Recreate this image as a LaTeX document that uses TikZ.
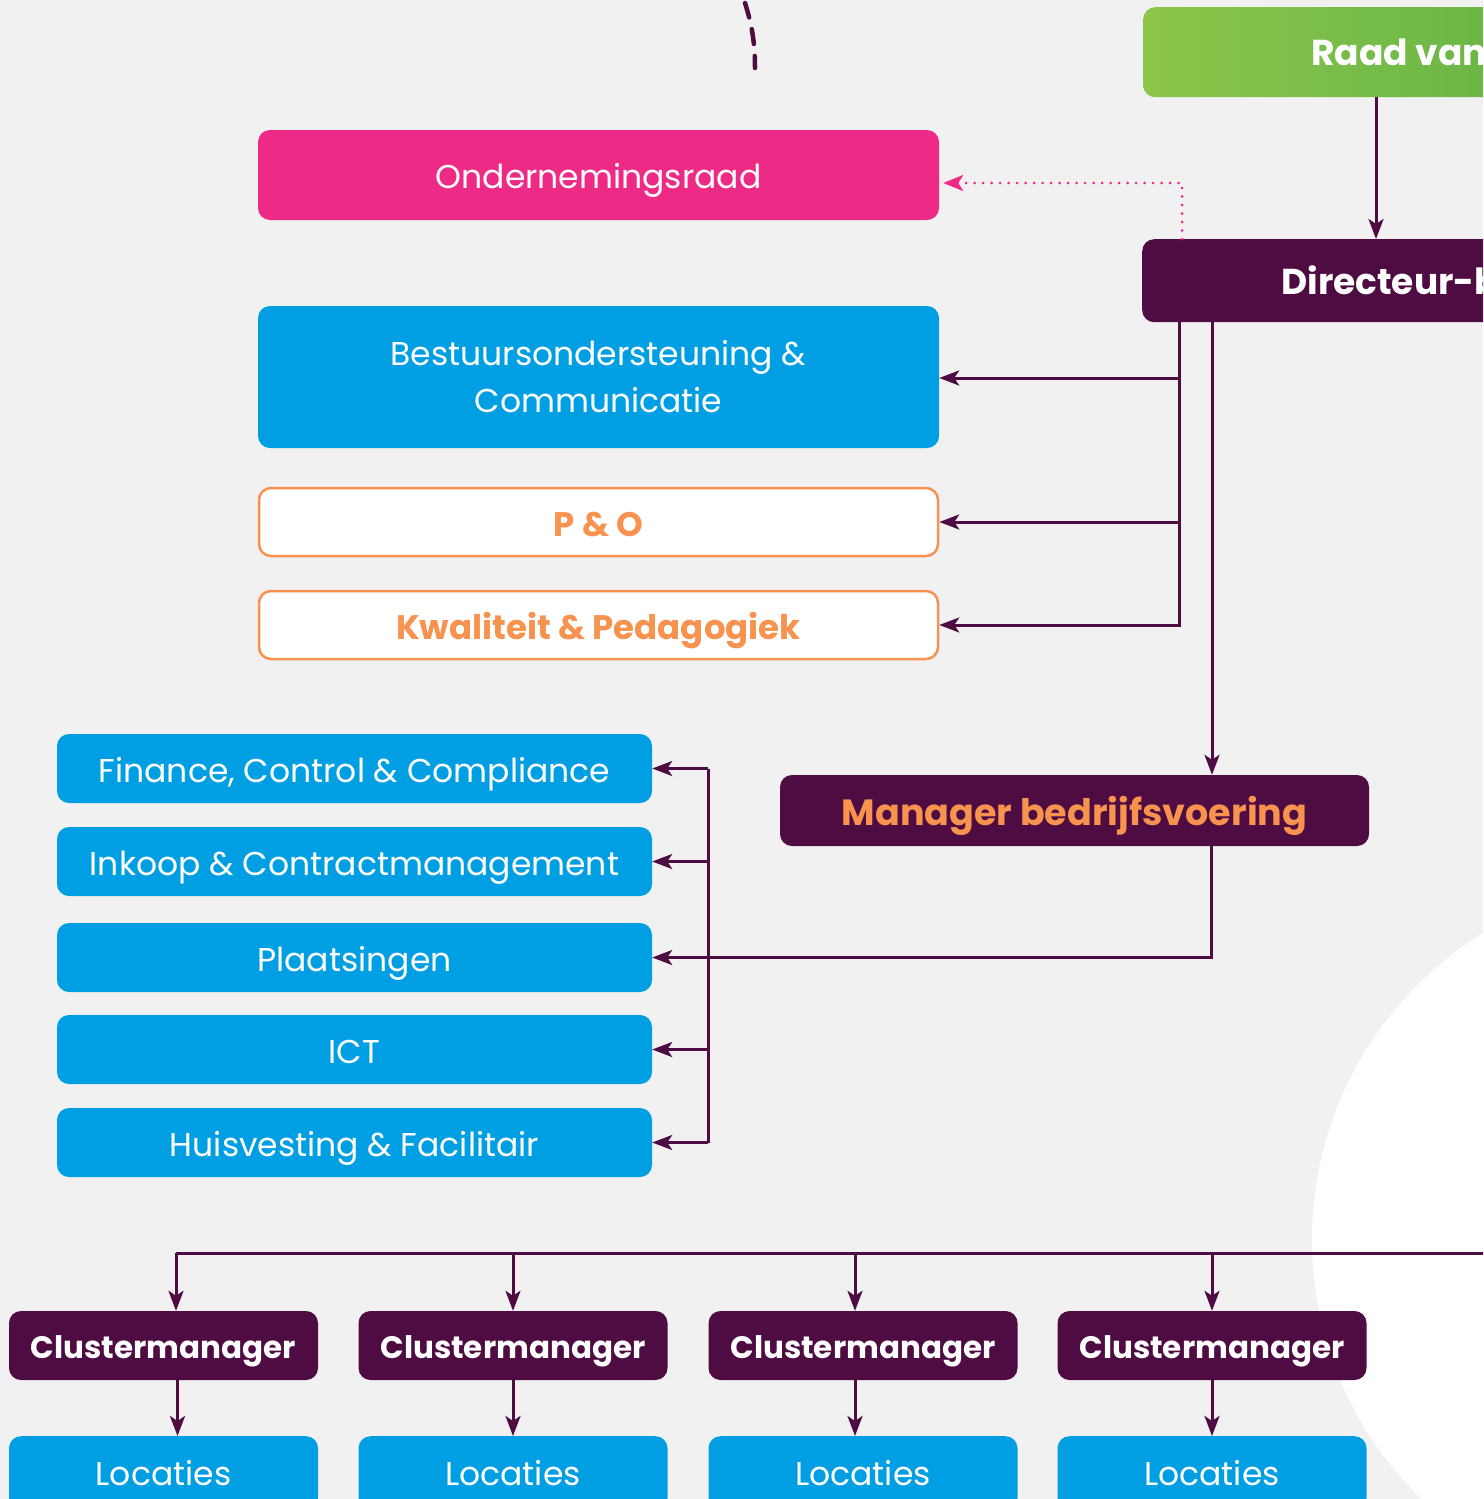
\documentclass[tikz,border=0pt]{standalone}
\usepackage{fontspec}
\setmainfont{Poppins}
\usetikzlibrary{arrows.meta,calc}
\definecolor{cbg}{HTML}{F1F1F1}
\definecolor{cpurple}{HTML}{4E0C42}
\definecolor{cpink}{HTML}{EE2A87}
\definecolor{cblue}{HTML}{009FE3}
\definecolor{corange}{HTML}{F7924F}
\definecolor{cgreenL}{HTML}{8CC64A}
\definecolor{cgreenR}{HTML}{5FB146}
\begin{document}
\begin{tikzpicture}[x=1pt,y=-1pt,
  box/.style={rounded corners=12pt, inner sep=0pt},
  onel/.style={text height=#1, text depth=0pt},
  onel/.default=27pt,
  regfont/.style={font=\fontsize{33}{47}\selectfont},
  boldfont/.style={font=\bfseries\fontsize{31}{36}\selectfont},
  bluebox/.style={box, fill=cblue, text=white, regfont},
  purplebox/.style={box, fill=cpurple, text=white, boldfont, onel=25pt},
  orangebox/.style={box, fill=white, draw=corange, line width=2.5pt, text=corange, font=\bfseries\fontsize{34}{36}\selectfont, onel=29pt},
  conn/.style={draw=cpurple, line width=3pt},
  arr/.style={conn, -{Stealth[length=20pt,width=15pt,inset=5pt]}},
  pinkarr/.style={draw=cpink, line width=3pt, line cap=round, dash pattern=on 0pt off 8.5pt, -{Stealth[length=20pt,width=16pt,inset=5pt,sep=4pt]}},
]
\useasboundingbox (0,0) rectangle (1483,1499);
\clip (0,0) rectangle (1483,1499);
\fill[cbg] (0,0) rectangle (1483,1499);
\fill[white] (1673,1240) circle[radius=361pt];

% top dashed curve
\draw[cpurple, line width=4.5pt, line cap=round, dash pattern=on 15pt off 12pt] (745,3) .. controls (751,22) and (755,40) .. (755,68);

% top right boxes
\node[box, left color=cgreenL, right color=cgreenR, minimum width=470pt, minimum height=90pt, anchor=north west] (raad) at (1143,7) {};
\node[anchor=west, text=white, font=\bfseries\fontsize{36}{40}\selectfont, inner sep=0pt, onel=26pt] (raadtxt) at (1311,52) {Raad van Toezicht};
\node[box, fill=cpurple, minimum width=470pt, minimum height=83pt, anchor=north west] (dir) at (1142,239) {};
\node[anchor=west, text=white, font=\bfseries\fontsize{36}{40}\selectfont, inner sep=0pt, onel=26pt] (dirtxt) at (1281,281) {Directeur-bestuurder};

% staff boxes
\node[box, fill=cpink, text=white, regfont, onel, minimum width=681pt, minimum height=90pt] (onr) at (598.5,175) {Ondernemingsraad};
\node[bluebox, align=center, minimum width=681pt, minimum height=142pt] (bc) at (598.5,377) {Bestuursondersteuning \&\\Communicatie};
\node[orangebox, minimum width=679pt, minimum height=68pt] (po) at (598.5,522) {P \& O};
\node[orangebox, minimum width=679pt, minimum height=68pt] (ko) at (598.5,625) {Kwaliteit \& Pedagogiek};

% manager
\node[purplebox, text=corange, font=\bfseries\fontsize{36.5}{40}\selectfont, onel=30pt, minimum width=589pt, minimum height=71pt] (mgr) at (1074.5,810.5) {Manager bedrijfsvoering};

% left service boxes
\node[bluebox, onel, minimum width=595pt, minimum height=69pt] (fin) at (354.5,768.5) {Finance, Control \& Compliance};
\node[bluebox, onel, minimum width=595pt, minimum height=69pt] (ink) at (354.5,861.5) {Inkoop \& Contractmanagement};
\node[bluebox, onel, minimum width=595pt, minimum height=69pt] (pl) at (354.5,957.5) {Plaatsingen};
\node[bluebox, onel, minimum width=595pt, minimum height=69pt] (ict) at (354.5,1049.5) {ICT};
\node[bluebox, onel, minimum width=595pt, minimum height=69pt] (hv) at (354.5,1142.5) {Huisvesting \& Facilitair};

% cluster managers and locations
\foreach \i/\cx in {1/163.5, 2/513, 3/863, 4/1212} {
  \node[purplebox, minimum width=309pt, minimum height=69pt] (cm\i) at (\cx,1345.5) {Clustermanager};
  \node[bluebox, minimum width=309pt, minimum height=74pt, anchor=north] (loc\i) at (\cx,1436) {};
  \node[text=white, regfont, onel, inner sep=0pt] (loct\i) at (\cx,1472) {Locaties};
}

% connectors
\draw[arr] ([xshift=233pt]raad.south west) -- ([xshift=234pt]dir.north west);
\draw[pinkarr] ([xshift=40pt]dir.north west) |- ([yshift=-8pt]onr.east);
\draw[arr] ([xshift=37pt]dir.south west) |- ([yshift=-1pt]bc.east);
\draw[arr] ([xshift=37pt]dir.south west) |- (po.east);
\draw[arr] ([xshift=37pt]dir.south west) |- (ko.east);
\draw[arr] ([xshift=70pt]dir.south west) -- ([xshift=70pt]dir.south west |- mgr.north);
\draw[arr] ([xshift=432pt]mgr.south west) |- (pl.east);

\draw[conn] ([xshift=56pt]fin.east) -- ([xshift=56pt]hv.east);
\foreach \n in {fin,ink,ict,hv} {
  \draw[arr] ([xshift=56pt]\n.east) -- (\n.east);
}

\coordinate (busR) at (1600,1253);
\coordinate (busL) at (176,1253);
\draw[conn] (busL) -- (busR);
\draw[arr] (busL) -- ([xshift=12.5pt]cm1.north);
\draw[arr] (cm2.north |- busL) -- (cm2.north);
\draw[arr] ([xshift=-8pt]cm3.north |- busL) -- ([xshift=-8pt]cm3.north);
\draw[arr] (cm4.north |- busL) -- (cm4.north);
\draw[arr] ([xshift=14pt]cm1.south) -- ([xshift=14pt]loc1.north);
\draw[arr] (cm2.south) -- (loc2.north);
\draw[arr] ([xshift=-8pt]cm3.south) -- ([xshift=-8pt]loc3.north);
\draw[arr] (cm4.south) -- (loc4.north);
\end{tikzpicture}
\end{document}
